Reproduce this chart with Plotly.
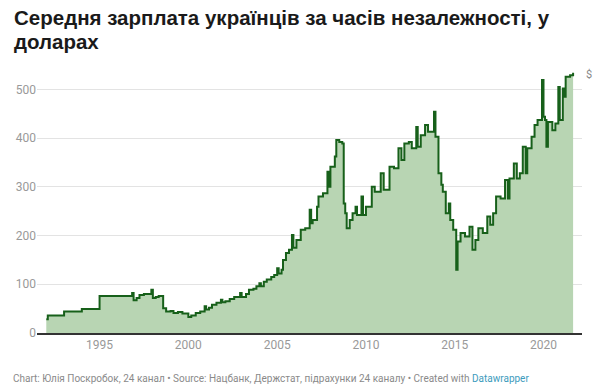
import plotly.graph_objects as go

# Monthly readings (step series): month start -> average salary, USD
dates = [
    "1992-01", "1992-02", "1993-01", "1994-01", "1995-01", "1996-11", "1996-12",
    "1997-02", "1997-04", "1997-07", "1997-12", "1998-01", "1998-03", "1998-05",
    "1998-08", "1998-10", "1999-01", "1999-03", "1999-06", "1999-09", "2000-01",
    "2000-03", "2000-06", "2000-09", "2000-12", "2001-01", "2001-03", "2001-05",
    "2001-08", "2001-11", "2001-12", "2002-02", "2002-05", "2002-08", "2002-12",
    "2003-01", "2003-04", "2003-06", "2003-09", "2003-11", "2004-01", "2004-02",
    "2004-04", "2004-06", "2004-09", "2004-11", "2005-01", "2005-02", "2005-04",
    "2005-05", "2005-07", "2005-09", "2005-11", "2005-12", "2006-02", "2006-05",
    "2006-08", "2006-11", "2006-12", "2007-01", "2007-04", "2007-05", "2007-08",
    "2007-11", "2007-12", "2008-01", "2008-04", "2008-05", "2008-07", "2008-09",
    "2008-10", "2008-11", "2008-12", "2009-02", "2009-04", "2009-06", "2009-07",
    "2009-10", "2009-11", "2010-01", "2010-05", "2010-07", "2010-11", "2011-01",
    "2011-05", "2011-08", "2011-11", "2012-01", "2012-03", "2012-06", "2012-08",
    "2012-11", "2012-12", "2013-02", "2013-05", "2013-07", "2013-10", "2013-11",
    "2013-12", "2014-02", "2014-04", "2014-05", "2014-07", "2014-09", "2014-10",
    "2014-12", "2015-02", "2015-03", "2015-05", "2015-08", "2015-11", "2016-01",
    "2016-03", "2016-05", "2016-08", "2016-11", "2017-01", "2017-03", "2017-05",
    "2017-08", "2017-11", "2018-01", "2018-02", "2018-05", "2018-07", "2018-09",
    "2018-11", "2019-01", "2019-02", "2019-05", "2019-07", "2019-09", "2019-12",
    "2020-01", "2020-02", "2020-03", "2020-04", "2020-07", "2020-09", "2020-11",
    "2020-12", "2021-02", "2021-03", "2021-04", "2021-07", "2021-09",
]
salary_usd = [
    28, 36, 44, 49, 76, 82, 67,
    72, 78, 80, 89, 72, 74, 76,
    51, 44, 45, 41, 43, 40, 33,
    36, 41, 44, 55, 48, 52, 58,
    62, 68, 63, 65, 70, 74, 82,
    74, 80, 89, 91, 96, 102, 96,
    105, 110, 115, 119, 133, 122, 130,
    150, 164, 171, 201, 175, 191, 212,
    215, 253, 225, 232, 259, 280, 287,
    331, 300, 341, 362, 396, 392, 389,
    266, 246, 215, 232, 246, 259, 242,
    280, 242, 259, 300, 290, 328, 294,
    341, 338, 379, 355, 389, 392, 379,
    423, 382, 406, 427, 413, 413, 454,
    403, 328, 304, 290, 246, 266, 232,
    212, 130, 188, 205, 198, 218, 171,
    191, 215, 205, 239, 222, 246, 280,
    276, 314, 276, 317, 348, 317, 328,
    382, 328, 379, 403, 427, 437, 519,
    444, 437, 382, 433, 416, 430, 505,
    437, 502, 485, 526, 529, 534,
]

y_ticks = [0, 100, 200, 300, 400, 500]
x_tick_years = ["1995", "2000", "2005", "2010", "2015", "2020"]

title_lines = ["Середня зарплата українців за часів незалежності, у", "доларах"]
footer_text = ("Chart: Юлія Поскробок, 24 канал • Source: Нацбанк, Держстат, "
               "підрахунки 24 каналу • Created with "
               "<span style='color:#3d9bbd'>Datawrapper</span>")

W, H = 600, 392
ML, MR, MT, MB = 37, 18, 65, 59
PW, PH = W - ML - MR, H - MT - MB


def px_x(x):
    return (x - ML) / PW


def px_y(y):
    return (H - MB - y) / PH


fig = go.Figure()
fig.add_trace(go.Scatter(
    x=dates, y=salary_usd,
    mode="lines", line=dict(color="#17601a", width=2, shape="hv"),
    fill="tozeroy", fillcolor="#b8d5b3",
    hoverinfo="skip",
))

title_font = dict(family="Liberation Sans, Arial, sans-serif", size=20.5,
                  color="#1a1a1a", weight="bold")
annotations = [
    dict(text=title_lines[0], xref="paper", x=px_x(12), xanchor="left",
         yref="paper", y=px_y(17.5), yanchor="middle", showarrow=False, font=title_font),
    dict(text=title_lines[1], xref="paper", x=px_x(12), xanchor="left",
         yref="paper", y=px_y(41.5), yanchor="middle", showarrow=False, font=title_font),
    dict(text="$", xref="paper", x=1.0, xanchor="left", xshift=2,
         yref="y", y=530, yanchor="middle", showarrow=False,
         font=dict(size=11, color="#888888")),
    dict(text=footer_text, xref="paper", x=px_x(11), xanchor="left",
         yref="paper", y=px_y(378), yanchor="middle", showarrow=False,
         font=dict(size=10, color="#8a8a8a")),
]

fig.update_layout(
    width=W, height=H,
    margin=dict(l=ML, r=MR, t=MT, b=MB),
    paper_bgcolor="white", plot_bgcolor="white",
    showlegend=False,
    font=dict(family="Roboto, sans-serif", color="#999999", size=12),
    xaxis=dict(
        type="date",
        range=["1991-06-24", "2022-03-03"],
        tickvals=[y + "-01-01" for y in x_tick_years],
        ticktext=x_tick_years,
        showgrid=False, zeroline=False,
        showline=True, linecolor="#333333", linewidth=1.5,
        ticks="", tickfont=dict(size=12, color="#999999"),
    ),
    yaxis=dict(
        range=[0, 550],
        tickvals=y_ticks,
        showgrid=True, gridcolor="#e3e3e3", gridwidth=1,
        zeroline=False, showline=False, ticks="",
        tickfont=dict(size=12, color="#999999"),
    ),
    annotations=annotations,
)

fig.write_html("out.html", config={"displayModeBar": False},
               post_script="document.body.style.margin='0px';")
